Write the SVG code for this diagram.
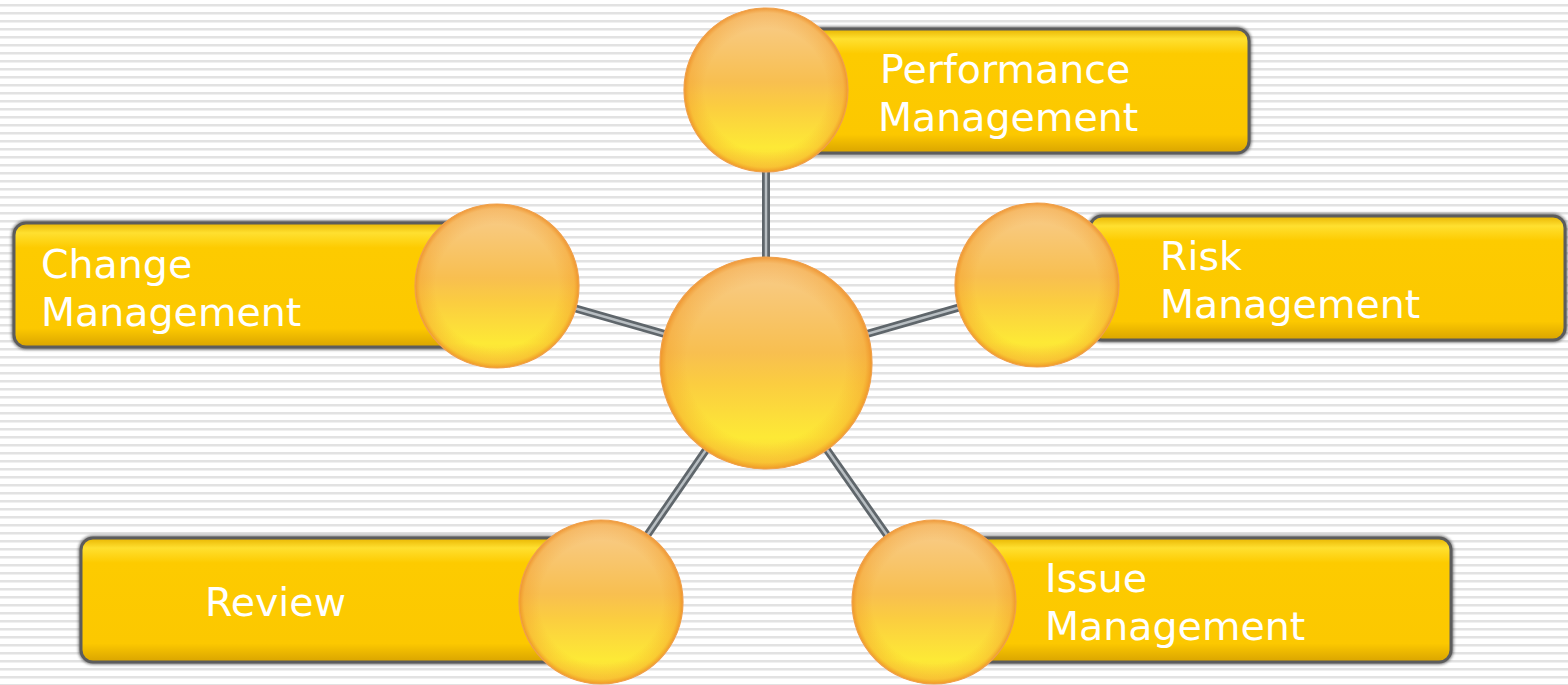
<svg xmlns="http://www.w3.org/2000/svg" width="1568" height="685" viewBox="0 0 1568 685">
<defs>
<pattern id="stripes" width="8" height="8" patternUnits="userSpaceOnUse">
<rect width="8" height="8" fill="#ffffff"/>
<rect y="4" width="8" height="2" fill="#e2e2e2"/>
<rect y="6" width="8" height="1" fill="#f0f0f0"/>
</pattern>
<linearGradient id="boxFill" x1="0" y1="0" x2="0" y2="1">
<stop offset="0" stop-color="#e8b400"/>
<stop offset="0.08" stop-color="#ffe030"/>
<stop offset="0.2" stop-color="#fdcb00"/>
<stop offset="0.85" stop-color="#fcc800"/>
<stop offset="1" stop-color="#d9a400"/>
</linearGradient>
<linearGradient id="ballBase" x1="0" y1="0" x2="0" y2="1">
<stop offset="0" stop-color="#f8cd90"/>
<stop offset="0.45" stop-color="#f8bf50"/>
<stop offset="0.6" stop-color="#fbcd40"/>
<stop offset="0.85" stop-color="#fde936"/>
<stop offset="1" stop-color="#fbd53a"/>
</linearGradient>
<radialGradient id="ballRim" cx="0.5" cy="0.5" r="0.5">
<stop offset="0.75" stop-color="#f29a2a" stop-opacity="0"/>
<stop offset="0.94" stop-color="#f29a2a" stop-opacity="0.35"/>
<stop offset="1" stop-color="#ec8a22" stop-opacity="0.8"/>
</radialGradient>
<filter id="shadow" x="-5%" y="-10%" width="110%" height="120%">
<feGaussianBlur stdDeviation="1.5"/>
</filter>
</defs>
<style>
.box{fill:url(#boxFill);stroke:#5c5c5c;stroke-width:3}
.boxEdge{fill:none;stroke:#444;stroke-width:5;filter:url(#shadow);opacity:0.7}
.ball{fill:url(#ballBase)}
.rim{fill:url(#ballRim);stroke:#f0a04a;stroke-width:1.2}
.rod{stroke:#5f666b;stroke-width:8;stroke-linecap:butt}
.rodHi{stroke:#b8bec2;stroke-width:2.5}
.lbl{font-family:"DejaVu Sans","Verdana",sans-serif;font-size:39.5px;fill:#ffffff}
</style>
<rect width="1568" height="685" fill="url(#stripes)"/>

<g id="connectors">
<line class="rod" x1="766" y1="363" x2="766" y2="90"/>
<line class="rod" x1="766" y1="363" x2="497" y2="286"/>
<line class="rod" x1="766" y1="363" x2="1037" y2="285"/>
<line class="rod" x1="766" y1="363" x2="601" y2="602"/>
<line class="rod" x1="766" y1="363" x2="934" y2="602"/>
<line class="rodHi" x1="766" y1="363" x2="766" y2="90"/>
<line class="rodHi" x1="766" y1="363" x2="497" y2="286"/>
<line class="rodHi" x1="766" y1="363" x2="1037" y2="285"/>
<line class="rodHi" x1="766" y1="363" x2="601" y2="602"/>
<line class="rodHi" x1="766" y1="363" x2="934" y2="602"/>
</g>

<g id="node-performance">
<rect class="boxEdge" x="800" y="29" width="449" height="124" rx="12"/>
<rect class="box" x="800" y="29" width="449" height="124" rx="12"/>
<circle class="ball" cx="766" cy="90" r="82"/>
<circle class="rim" cx="766" cy="90" r="82"/>
<text class="lbl" x="880" y="83">Performance</text>
<text class="lbl" x="878" y="131">Management</text>
</g>

<g id="node-change">
<rect class="boxEdge" x="14" y="223" width="456" height="124" rx="12"/>
<rect class="box" x="14" y="223" width="456" height="124" rx="12"/>
<circle class="ball" cx="497" cy="286" r="82"/>
<circle class="rim" cx="497" cy="286" r="82"/>
<text class="lbl" x="41" y="278">Change</text>
<text class="lbl" x="41" y="326">Management</text>
</g>

<g id="node-risk">
<rect class="boxEdge" x="1090" y="216" width="475" height="124" rx="12"/>
<rect class="box" x="1090" y="216" width="475" height="124" rx="12"/>
<circle class="ball" cx="1037" cy="285" r="82"/>
<circle class="rim" cx="1037" cy="285" r="82"/>
<text class="lbl" x="1160" y="270">Risk</text>
<text class="lbl" x="1160" y="318">Management</text>
</g>

<g id="node-review">
<rect class="boxEdge" x="81" y="538" width="480" height="124" rx="12"/>
<rect class="box" x="81" y="538" width="480" height="124" rx="12"/>
<circle class="ball" cx="601" cy="602" r="82"/>
<circle class="rim" cx="601" cy="602" r="82"/>
<text class="lbl" x="205" y="616">Review</text>
</g>

<g id="node-issue">
<rect class="boxEdge" x="960" y="538" width="491" height="124" rx="12"/>
<rect class="box" x="960" y="538" width="491" height="124" rx="12"/>
<circle class="ball" cx="934" cy="602" r="82"/>
<circle class="rim" cx="934" cy="602" r="82"/>
<text class="lbl" x="1045" y="592">Issue</text>
<text class="lbl" x="1045" y="640">Management</text>
</g>

<g id="node-center">
<circle class="ball" cx="766" cy="363" r="106"/>
<circle class="rim" cx="766" cy="363" r="106"/>
</g>
</svg>
